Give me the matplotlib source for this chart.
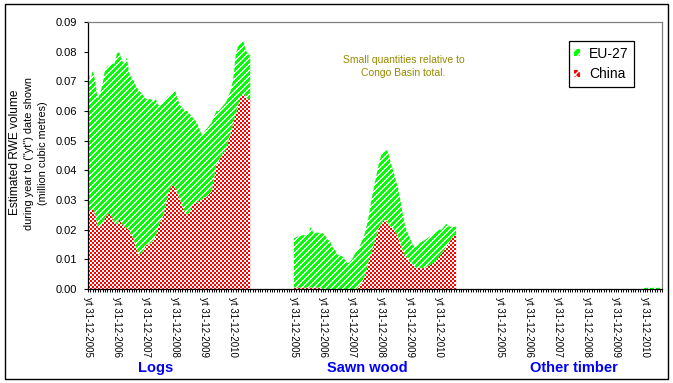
import numpy as np
import matplotlib
matplotlib.use("Agg")
import matplotlib.pyplot as plt
import matplotlib.transforms as mtransforms
from matplotlib.path import Path
from matplotlib.patches import Patch, Rectangle

plt.rcParams['font.family'] = ['Liberation Sans', 'DejaVu Sans']

# monthly values, Dec 2005 .. Jul 2011 (68 months per product)
logs_china = [0.026, 0.026, 0.0275, 0.025, 0.021, 0.021, 0.022, 0.024, 0.025, 0.0255,
              0.024, 0.022, 0.022, 0.0235, 0.022, 0.021, 0.0205, 0.020, 0.018, 0.0166,
              0.0135, 0.0115, 0.012, 0.013, 0.015, 0.015, 0.0155, 0.0165, 0.018, 0.021,
              0.023, 0.0245, 0.028, 0.032, 0.034, 0.035, 0.034, 0.032, 0.030, 0.028,
              0.026, 0.025, 0.026, 0.028, 0.029, 0.029, 0.030, 0.030, 0.031, 0.031,
              0.032, 0.033, 0.037, 0.042, 0.043, 0.045, 0.046, 0.047, 0.050, 0.053,
              0.056, 0.059, 0.062, 0.065, 0.066, 0.065, 0.064, 0.064]
logs_eu = [0.048, 0.044, 0.0465, 0.045, 0.043, 0.045, 0.047, 0.050, 0.050, 0.050,
           0.052, 0.054, 0.0577, 0.0562, 0.055, 0.055, 0.0575, 0.053, 0.053, 0.0534,
           0.0545, 0.0555, 0.054, 0.052, 0.049, 0.049, 0.0485, 0.0465, 0.046, 0.041,
           0.039, 0.0385, 0.036, 0.033, 0.031, 0.031, 0.033, 0.032, 0.032, 0.033,
           0.034, 0.035, 0.033, 0.030, 0.028, 0.027, 0.024, 0.022, 0.022, 0.023,
           0.023, 0.023, 0.021, 0.018, 0.017, 0.016, 0.016, 0.016, 0.015, 0.014,
           0.015, 0.020, 0.020, 0.018, 0.018, 0.016, 0.015, 0.015]

sawn_china = [0.0005] * 12 + [0.0] * 15 + [
              0.001, 0.002, 0.004, 0.006, 0.010, 0.012, 0.015, 0.018, 0.0205, 0.022,
              0.023, 0.0233, 0.022, 0.021, 0.0205, 0.019, 0.0177, 0.015, 0.013, 0.011,
              0.0105, 0.009, 0.0085, 0.0075, 0.007, 0.0072, 0.007, 0.0072, 0.0075, 0.008,
              0.0085, 0.009, 0.010, 0.011, 0.012, 0.013, 0.0145, 0.0155, 0.017, 0.018,
              0.018]
sawn_eu = [0.0165, 0.017, 0.0175, 0.0175, 0.0177, 0.0173, 0.0185, 0.0204, 0.0185, 0.0185,
           0.0185, 0.0183, 0.0188, 0.018, 0.0166, 0.016, 0.014, 0.0132, 0.0115, 0.0114,
           0.011, 0.010, 0.0087, 0.009, 0.010, 0.0115, 0.013, 0.013, 0.014, 0.014,
           0.015, 0.015, 0.018, 0.019, 0.020, 0.0215, 0.023, 0.0235, 0.0237, 0.024,
           0.0215, 0.0195, 0.018, 0.0163, 0.015, 0.012, 0.010, 0.0085, 0.008, 0.0065,
           0.0065, 0.0075, 0.0083, 0.009, 0.0093, 0.0095, 0.0097, 0.0095, 0.010, 0.0095,
           0.009, 0.008, 0.008, 0.0075, 0.0055, 0.004, 0.003, 0.003]

other_china = [0.0] * 68
other_eu = [0.0] * 60 + [0.0004] * 8

groups = ['Logs', 'Sawn wood', 'Other timber']
tick_labels = ['yt 31-12-2005', 'yt 31-12-2006', 'yt 31-12-2007',
               'yt 31-12-2008', 'yt 31-12-2009', 'yt 31-12-2010']

n_months = 68
group_step = 85          # 68 months + 17 empty categories
n_cat = 2 * group_step + n_months

W, H = 673, 383
fig = plt.figure(figsize=(W / 100, H / 100), dpi=100)
ax_l, ax_r, ax_t, ax_b = 88, 662, 22, 289
ax = fig.add_axes([ax_l / W, (H - ax_b) / H, (ax_r - ax_l) / W, (ax_b - ax_t) / H])

china_paths = []
eu_paths = []
for g, (ch, eu) in enumerate([(logs_china, logs_eu), (sawn_china, sawn_eu),
                              (other_china, other_eu)]):
    x = np.arange(n_months) + g * group_step
    ch = np.array(ch)
    top = ch + np.array(eu)
    pc = ax.fill_between(x, 0, ch, facecolor='none', edgecolor='none')
    pe = ax.fill_between(x, ch, top, facecolor='none', edgecolor='none')
    china_paths += pc.get_paths()
    eu_paths += pe.get_paths()

# pixel textures: red/white checker for China, green diagonal stripes for EU
ph, pw = ax_b - ax_t, ax_r - ax_l
rr, cc = np.mgrid[0:ph, 0:pw]
checker = ((rr // 2 + cc // 2) % 2 == 0)
stripes = ((cc + rr) % 6 < 4)
red_img = np.ones((ph, pw, 3))
red_img[checker] = [1, 0, 0]
green_img = np.ones((ph, pw, 3))
green_img[stripes] = [0, 1, 0]

ext = [0, n_cat - 1, 0, 0.09]
im1 = ax.imshow(red_img, extent=ext, aspect='auto', interpolation='nearest', zorder=2)
im1.set_clip_path(Path.make_compound_path(*china_paths), ax.transData)
im2 = ax.imshow(green_img, extent=ext, aspect='auto', interpolation='nearest', zorder=2)
im2.set_clip_path(Path.make_compound_path(*eu_paths), ax.transData)

ax.set_xlim(0, n_cat - 1)
ax.set_ylim(0, 0.09)

ax.set_yticks(np.arange(0, 0.091, 0.01))
ax.set_yticklabels(['%.2f' % v for v in np.arange(0, 0.091, 0.01)], fontsize=8)
ax.tick_params(axis='y', direction='out', length=3, width=0.8, pad=5)

major = [g * group_step + 12 * k for g in range(3) for k in range(6)]
ax.set_xticks(major)
ax.set_xticklabels(tick_labels * 3, rotation=270, fontsize=7, va='top', ha='center')
ax.set_xticks(np.arange(n_cat), minor=True)
ax.tick_params(axis='x', which='both', direction='out', length=2.5, width=0.7, pad=3)

for s in ['left', 'bottom']:
    ax.spines[s].set_color('black')
    ax.spines[s].set_linewidth(0.9)
for s in ['top', 'right']:
    ax.spines[s].set_color('#808080')
    ax.spines[s].set_linewidth(0.9)

# product group labels under the date labels
trans = mtransforms.blended_transform_factory(ax.transData, fig.transFigure)
for lab, xc in zip(groups, [28, 115.5, 200.5]):
    ax.text(xc, 1 - 368 / H, lab, transform=trans, ha='center', va='center',
            fontsize=10.5, fontweight='bold', color='#0000ff')

fig.text(15 / W, 1 - 152 / H, 'Estimated RWE volume', rotation=90,
         ha='center', va='center', fontsize=8.6)
fig.text(29 / W, 1 - 153 / H, 'during year to ("yt") date shown', rotation=90,
         ha='center', va='center', fontsize=7.8)
fig.text(43.5 / W, 1 - 153 / H, '(million cubic metres)', rotation=90,
         ha='center', va='center', fontsize=7.8)

fig.text(403.5 / W, 1 - 66.5 / H, 'Small quantities relative to\nCongo Basin total.',
         ha='center', va='center', fontsize=7.5, color='#968a00', linespacing=1.4)

handles = [Patch(facecolor='#00ff00', edgecolor='white', hatch='////', lw=0),
           Patch(facecolor='#ff0000', edgecolor='white', hatch='xxxx', lw=0)]
leg = fig.legend(handles, ['EU-27', 'China'], loc='upper right',
                 bbox_to_anchor=(634 / W, 1 - 41 / H), fontsize=10,
                 handlelength=0.45, handleheight=0.45, handletextpad=0.6,
                 labelspacing=0.5, borderpad=0.4, borderaxespad=0,
                 fancybox=False, framealpha=1, edgecolor='black')
leg.get_frame().set_linewidth(0.9)

fig.patches.append(Rectangle((5 / W, 4 / H), 663 / W, 375 / H, transform=fig.transFigure,
                             fill=False, edgecolor='black', lw=1.0))

fig.savefig('out.png', dpi=100)
